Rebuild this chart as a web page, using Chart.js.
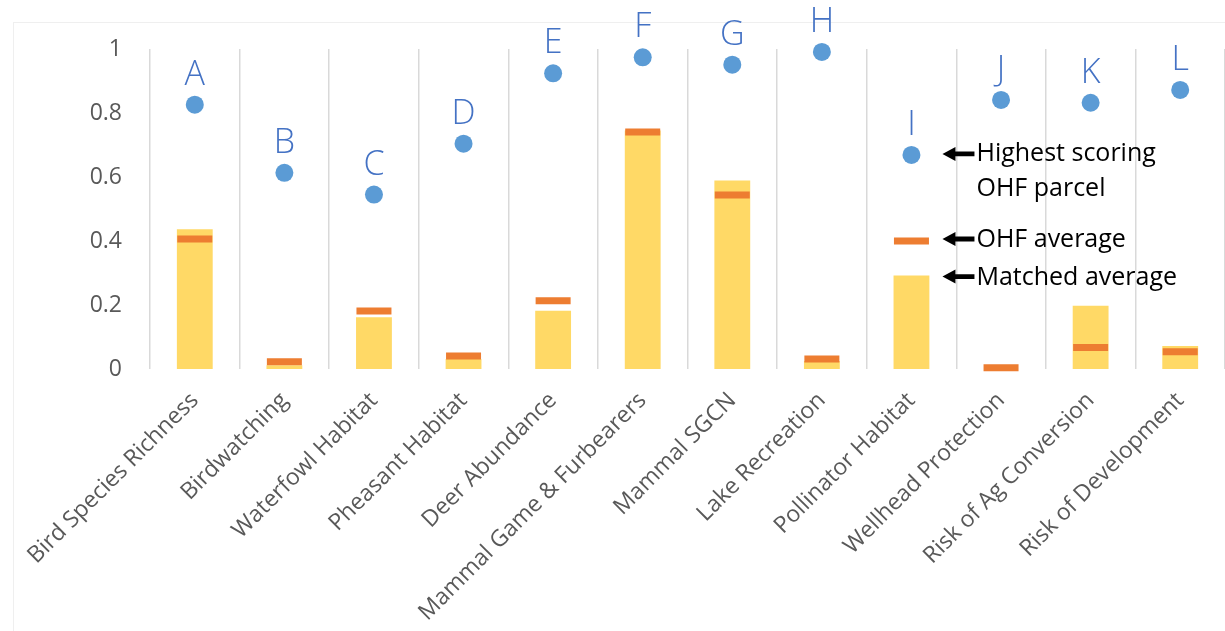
<!DOCTYPE html>
<html>
<head>
<meta charset="utf-8">
<script src="https://cdn.jsdelivr.net/npm/chart.js@4.4.0/dist/chart.umd.min.js"></script>
<style>
  html, body { margin: 0; padding: 0; background: #ffffff; }
  #wrap { width: 1225px; height: 631px; position: relative; }
</style>
</head>
<body>
<div id="wrap"><canvas id="c" width="1225" height="631"></canvas></div>
<script>
const categories = ['Bird Species Richness', 'Birdwatching', 'Waterfowl Habitat', 'Pheasant Habitat',
  'Deer Abundance', 'Mammal Game & Furbearers', 'Mammal SGCN', 'Lake Recreation',
  'Pollinator Habitat', 'Wellhead Protection', 'Risk of Ag Conversion', 'Risk of Development'];
const matchedAverage = [0.437, 0.012, 0.162, 0.031, 0.182, 0.745, 0.589, 0.025, 0.292, 0.0, 0.198, 0.072];
const ohfAverage     = [0.406, 0.023, 0.181, 0.041, 0.213, 0.741, 0.544, 0.031, 0.400, 0.004, 0.067, 0.054];
const highestParcel  = [0.826, 0.613, 0.545, 0.704, 0.924, 0.974, 0.951, 0.991, 0.669, 0.841, 0.832, 0.872];
const pointLetters   = ['A', 'B', 'C', 'D', 'E', 'F', 'G', 'H', 'I', 'J', 'K', 'L'];
const yTickLabels    = ['0', '0.2', '0.4', '0.6', '0.8', '1'];
const legendColumn   = 8; // Pollinator Habitat column carries the legend call-outs
const legendTexts    = { highest: ['Highest scoring', 'OHF parcel'], ohf: 'OHF average', matched: 'Matched average' };

const FONT = "'Open Sans', 'DejaVu Sans', sans-serif";

const frame = {
  id: 'frame',
  beforeDraw(chart) {
    const ctx = chart.ctx;
    ctx.save();
    ctx.strokeStyle = '#efefef';
    ctx.lineWidth = 1;
    ctx.strokeRect(13.5, 22.5, chart.width + 10, chart.height + 10);
    ctx.restore();
  }
};

function arrow(ctx, tipX, y, endX) {
  const hl = 13, hh = 7, sh = 2.4;
  ctx.beginPath();
  ctx.moveTo(tipX, y);
  ctx.lineTo(tipX + hl, y - hh);
  ctx.lineTo(tipX + hl, y - sh);
  ctx.lineTo(endX, y - sh);
  ctx.lineTo(endX, y + sh);
  ctx.lineTo(tipX + hl, y + sh);
  ctx.lineTo(tipX + hl, y + hh);
  ctx.closePath();
  ctx.fill();
}

const annotations = {
  id: 'annotations',
  afterDatasetsDraw(chart) {
    const ctx = chart.ctx;
    const barMeta = chart.getDatasetMeta(0);
    const ohfMeta = chart.getDatasetMeta(1);
    const dotMeta = chart.getDatasetMeta(2);
    ctx.save();
    ctx.fillStyle = '#4472C4';
    ctx.font = '300 34px ' + FONT;
    ctx.textAlign = 'center';
    ctx.textBaseline = 'alphabetic';
    dotMeta.data.forEach((pt, i) => {
      ctx.fillText(pointLetters[i], pt.x, pt.y - 20);
    });
    const dot = dotMeta.data[legendColumn];
    const ohf = ohfMeta.data[legendColumn];
    const bar = barMeta.data[legendColumn];
    const tipX = dot.x + 31;
    const endX = dot.x + 63;
    const txtX = dot.x + 65;
    ctx.fillStyle = '#000000';
    arrow(ctx, tipX, dot.y - 1, endX);
    arrow(ctx, tipX, ohf.y - 2, endX);
    arrow(ctx, tipX, bar.y + 1, endX);
    ctx.font = '25px ' + FONT;
    ctx.textAlign = 'left';
    ctx.textBaseline = 'alphabetic';
    ctx.fillText(legendTexts.highest[0], txtX, dot.y + 6);
    ctx.fillText(legendTexts.highest[1], txtX, dot.y + 41);
    ctx.fillText(legendTexts.ohf, txtX, ohf.y + 6);
    ctx.fillText(legendTexts.matched, txtX, bar.y + 9);
    ctx.restore();
  }
};

new Chart(document.getElementById('c'), {
  type: 'bar',
  data: {
    labels: categories,
    datasets: [
      {
        label: 'Matched average',
        data: matchedAverage,
        backgroundColor: '#FFD966',
        borderWidth: 0,
        barPercentage: 0.4,
        categoryPercentage: 1.0,
        order: 3
      },
      {
        type: 'line',
        label: 'OHF average',
        data: ohfAverage,
        showLine: false,
        pointStyle: 'line',
        pointRadius: 17.5,
        pointBorderWidth: 7,
        pointBorderColor: '#ED7D31',
        pointBackgroundColor: '#ED7D31',
        clip: false,
        order: 2
      },
      {
        type: 'line',
        label: 'Highest scoring OHF parcel',
        data: highestParcel,
        showLine: false,
        pointStyle: 'circle',
        pointRadius: 9,
        pointBorderWidth: 0,
        pointBackgroundColor: '#5B9BD5',
        pointBorderColor: '#5B9BD5',
        clip: false,
        order: 1
      }
    ]
  },
  options: {
    responsive: false,
    animation: false,
    events: [],
    layout: { autoPadding: false, padding: { top: 49, left: 0, right: 0, bottom: 0 } },
    plugins: { legend: { display: false }, tooltip: { enabled: false } },
    scales: {
      x: {
        offset: true,
        grid: { display: true, offset: true, color: '#d9d9d9', lineWidth: 1.5, drawTicks: false },
        border: { display: false },
        ticks: {
          autoSkip: false,
          maxRotation: 45,
          minRotation: 45,
          padding: 18,
          color: '#595959',
          font: { family: FONT, size: 23 }
        },
        afterFit(scale) {
          scale.height = 262;
          scale.paddingLeft = 0;
          scale.paddingRight = 0;
        }
      },
      y: {
        min: 0,
        max: 1,
        grid: { display: false, drawTicks: false },
        border: { display: false },
        ticks: {
          stepSize: 0.2,
          padding: 28,
          color: '#595959',
          font: { family: FONT, size: 23 },
          callback: (v, i) => yTickLabels[i]
        },
        afterFit(scale) { scale.width = 150; }
      }
    }
  },
  plugins: [frame, annotations]
});
</script>
</body>
</html>
